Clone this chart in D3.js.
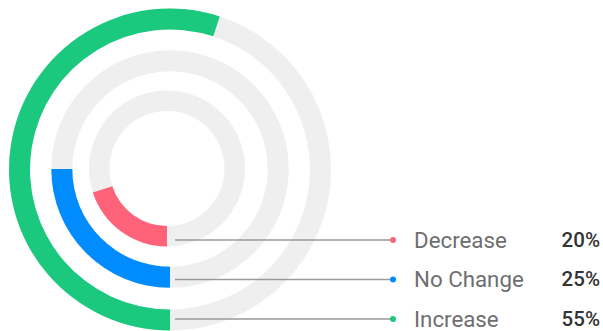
<!DOCTYPE html>
<html>
<head>
<meta charset="utf-8">
<script src="https://cdn.jsdelivr.net/npm/d3@7/dist/d3.min.js"></script>
<style>
  html, body { margin: 0; padding: 0; background: #fff; }
  svg { display: block; }
</style>
</head>
<body>
<svg id="chart" width="603" height="331"></svg>
<script>
// Answer categories, innermost ring first
const categories = ["Decrease", "No Change", "Increase"];
const percents = [20, 25, 55];
const colors = ["#ff6379", "#008cff", "#1ac97d"];

const svg = d3.select("#chart");

// One ring per category: inner/outer radius and centre
const rings = [
  { cx: 167, cy: 168.5, r0: 57.5, r1: 78 },
  { cx: 170, cy: 169, r0: 97.7, r1: 118.7 },
  { cx: 170, cy: 169.5, r0: 140, r1: 161 }
];

// Rings start at 6 o'clock and sweep clockwise
const angle = d3.scaleLinear().domain([0, 100]).range([Math.PI, 3 * Math.PI]);
const arc = d3.arc();

const legendY = [240, 279.5, 319];
const dotX = 393;

categories.forEach((cat, i) => {
  const r = rings[i];
  const g = svg.append("g").attr("transform", `translate(${r.cx},${r.cy})`);
  // background track
  g.append("path")
    .attr("d", arc({ innerRadius: r.r0, outerRadius: r.r1, startAngle: 0, endAngle: 2 * Math.PI }))
    .attr("fill", "#efefef");
  // value arc
  g.append("path")
    .attr("d", arc({ innerRadius: r.r0, outerRadius: r.r1, startAngle: angle(0), endAngle: angle(percents[i]) }))
    .attr("fill", colors[i]);
});

// Leader lines, dots and labels
categories.forEach((cat, i) => {
  const y = legendY[i];
  svg.append("line")
    .attr("x1", 175).attr("x2", dotX)
    .attr("y1", y).attr("y2", y)
    .attr("stroke", "#9a9a9a").attr("stroke-width", 1.3);
  svg.append("circle")
    .attr("cx", dotX).attr("cy", y).attr("r", 3)
    .attr("fill", colors[i]);
  svg.append("text")
    .attr("x", 414).attr("y", y + 7.5)
    .attr("font-family", "Roboto, 'Noto Sans', sans-serif")
    .attr("font-size", 22.3)
    .attr("fill", "#6e6e6e")
    .text(cat);
  svg.append("text")
    .attr("x", 600).attr("y", y + 6.5)
    .attr("text-anchor", "end")
    .attr("font-family", "Roboto, 'Noto Sans', sans-serif")
    .attr("font-size", 20.5)
    .attr("font-weight", 500)
    .attr("fill", "#333")
    .text(percents[i] + "%");
});
</script>
</body>
</html>
